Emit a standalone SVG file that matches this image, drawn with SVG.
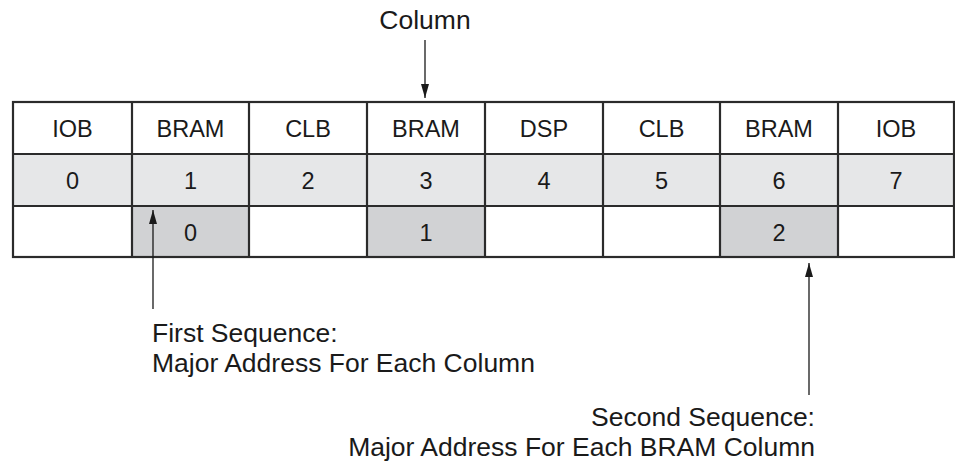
<svg xmlns="http://www.w3.org/2000/svg" width="955" height="463" viewBox="0 0 955 463">
<defs>
<style>
.t{font-family:"Liberation Sans",Arial,sans-serif;font-size:23.5px;fill:#1a1a1a;text-anchor:middle}
.l{font-family:"Liberation Sans",Arial,sans-serif;font-size:26.5px;fill:#1a1a1a}
.c{stroke:#2b2b2b;stroke-width:2.2}
.r2{fill:#e6e7e8}
.g{fill:#d1d2d4}
.w{fill:#ffffff}
.a{stroke:#1a1a1a;stroke-width:1.3;fill:none}
</style>
<marker id="ah" markerWidth="14" markerHeight="8" refX="14" refY="4" orient="auto" markerUnits="userSpaceOnUse" viewBox="0 0 14 8">
<path d="M0,0 L14,4 L0,8 Z" fill="#1a1a1a"/>
</marker>
</defs>
<rect width="955" height="463" fill="#ffffff"/>
<g id="table">
<rect class="w" x="13" y="102" width="941" height="52"/>
<rect class="r2" x="13" y="154" width="941" height="52"/>
<rect class="w" x="13" y="206" width="941" height="51"/>
<rect class="g" x="132" y="206" width="117" height="51"/>
<rect class="g" x="367" y="206" width="118" height="51"/>
<rect class="g" x="720" y="206" width="118" height="51"/>
<g class="c">
<rect x="13" y="102" width="941" height="155" fill="none"/>
<line x1="13" y1="154" x2="954" y2="154"/>
<line x1="13" y1="206" x2="954" y2="206"/>
<line x1="132" y1="102" x2="132" y2="257"/>
<line x1="249" y1="102" x2="249" y2="257"/>
<line x1="367" y1="102" x2="367" y2="257"/>
<line x1="485" y1="102" x2="485" y2="257"/>
<line x1="603" y1="102" x2="603" y2="257"/>
<line x1="720" y1="102" x2="720" y2="257"/>
<line x1="838" y1="102" x2="838" y2="257"/>
</g>
</g>
<g id="row-types">
<text class="t" x="72.5" y="137">IOB</text>
<text class="t" x="190.5" y="137">BRAM</text>
<text class="t" x="308" y="137">CLB</text>
<text class="t" x="426" y="137">BRAM</text>
<text class="t" x="544" y="137">DSP</text>
<text class="t" x="661.5" y="137">CLB</text>
<text class="t" x="779" y="137">BRAM</text>
<text class="t" x="896" y="137">IOB</text>
</g>
<g id="row-major">
<text class="t" x="72.5" y="189">0</text>
<text class="t" x="190.5" y="189">1</text>
<text class="t" x="308" y="189">2</text>
<text class="t" x="426" y="189">3</text>
<text class="t" x="544" y="189">4</text>
<text class="t" x="661.5" y="189">5</text>
<text class="t" x="779" y="189">6</text>
<text class="t" x="896" y="189">7</text>
</g>
<g id="row-bram">
<text class="t" x="190.5" y="241">0</text>
<text class="t" x="426" y="241">1</text>
<text class="t" x="779" y="241">2</text>
</g>
<g id="connectors">
<line class="a" x1="425" y1="40" x2="425" y2="98" marker-end="url(#ah)"/>
<line class="a" x1="153" y1="309" x2="153" y2="210" marker-end="url(#ah)"/>
<line class="a" x1="809" y1="395" x2="809" y2="263" marker-end="url(#ah)"/>
</g>
<g id="label-column">
<text class="l" x="425" y="29" text-anchor="middle">Column</text>
</g>
<g id="label-first">
<text class="l" x="152" y="342">First Sequence:</text>
<text class="l" x="152" y="372">Major Address For Each Column</text>
</g>
<g id="label-second">
<text class="l" x="815" y="426" text-anchor="end">Second Sequence:</text>
<text class="l" x="815" y="456" text-anchor="end">Major Address For Each BRAM Column</text>
</g>
</svg>
